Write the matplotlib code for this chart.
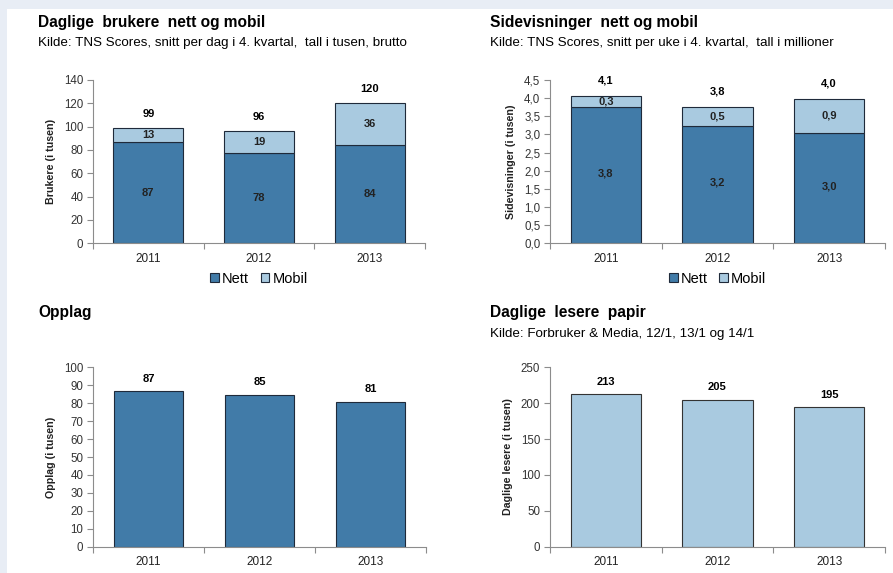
import matplotlib.pyplot as plt
import numpy as np

plt.rcParams['font.family'] = ['Liberation Sans', 'DejaVu Sans']

years = ['2011', '2012', '2013']

# Daglige brukere (tusen)
brukere_nett = [86.6, 77.6, 84.4]
brukere_mobil = [12.6, 18.8, 35.6]

# Sidevisninger (millioner)
sider_nett = [3.76, 3.24, 3.04]
sider_mobil = [0.31, 0.52, 0.94]

# Opplag (tusen)
opplag = [86.6, 84.6, 80.8]

# Daglige lesere papir (tusen)
lesere = [213, 205, 195]

c_nett = '#417BA8'
c_mobil = '#A9CAE0'
c_edge = '#1F2A3A'
c_spine = '#8C8C8C'
c_text = '#222222'

fig = plt.figure(figsize=(8.93, 5.73), dpi=100)
fig.patch.set_facecolor('#E8EDF5')
# white page
fig.add_artist(plt.Rectangle((7 / 893, 0), 1, (573 - 9) / 573,
                             transform=fig.transFigure, facecolor='white',
                             edgecolor='none', zorder=0))


def comma(v, d):
    return f'{v:.{d}f}'.replace('.', ',')


def setup(ax, ymax, step, ylabel, dec=0):
    x = np.arange(len(years))
    ax.set_xlim(-0.5, 2.5)
    ax.set_ylim(0, ymax)
    ticks = np.arange(0, ymax + step / 2, step)
    ax.set_yticks(ticks)
    ax.set_yticklabels([comma(v, dec) for v in ticks], fontsize=8.3, color='#333333')
    ax.set_xticks([-0.5, 0.5, 1.5, 2.5])
    ax.set_xticklabels([])
    ax.set_xticks(x, minor=True)
    ax.set_xticklabels(years, minor=True, fontsize=8.5, color='#222222')
    ax.tick_params(axis='x', which='major', length=4, color=c_spine)
    ax.tick_params(axis='x', which='minor', length=0, pad=7)
    ax.tick_params(axis='y', length=4, color=c_spine, pad=3)
    for s in ['top', 'right']:
        ax.spines[s].set_visible(False)
    for s in ['left', 'bottom']:
        ax.spines[s].set_color(c_spine)
        ax.spines[s].set_linewidth(0.8)
    ax.set_ylabel(ylabel, fontsize=7.7, fontweight='bold', color=c_text, labelpad=6)
    return x


def title(xp, yp, t, sub=None):
    fig.text(xp / 893, 1 - yp / 573, t, fontsize=11.2, fontweight='bold',
             color='black', va='center')
    if sub:
        fig.text(xp / 893, 1 - (yp + 21) / 573, sub, fontsize=9.6,
                 color='black', va='center')


bw = 0.63
lab = dict(ha='center', va='center', fontsize=8, fontweight='bold')
leg = dict(loc='upper center', bbox_to_anchor=(0.5, -0.14), ncol=2, frameon=False,
           fontsize=10.5, handlelength=0.6, handleheight=0.6, handletextpad=0.2,
           columnspacing=0.8, borderaxespad=0)

# Panel 1
ax1 = fig.add_axes([93 / 893, 1 - 243.3 / 573, 332 / 893, 163.3 / 573])
x = setup(ax1, 140, 20, 'Brukere (i tusen)')
ax1.bar(x, brukere_nett, bw, color=c_nett, edgecolor=c_edge, linewidth=0.8, label='Nett')
ax1.bar(x, brukere_mobil, bw, bottom=brukere_nett, color=c_mobil, edgecolor=c_edge,
        linewidth=0.8, label='Mobil')
for i in x:
    tot = brukere_nett[i] + brukere_mobil[i]
    ax1.text(i, brukere_nett[i] / 2, f'{brukere_nett[i]:.0f}', color=c_text, **lab)
    ax1.text(i, brukere_nett[i] + brukere_mobil[i] / 2, f'{brukere_mobil[i]:.0f}',
             color=c_text, **lab)
    ax1.text(i, tot + 12, f'{tot:.0f}', color='black', **lab)
ax1.legend(**leg)
title(38, 22, 'Daglige  brukere  nett og mobil',
      'Kilde: TNS Scores, snitt per dag i 4. kvartal,  tall i tusen, brutto')

# Panel 2
ax2 = fig.add_axes([550 / 893, 1 - 243.3 / 573, 335 / 893, 163.3 / 573])
x = setup(ax2, 4.5, 0.5, 'Sidevisninger (i tusen)', dec=1)
ax2.bar(x, sider_nett, bw, color=c_nett, edgecolor=c_edge, linewidth=0.8, label='Nett')
ax2.bar(x, sider_mobil, bw, bottom=sider_nett, color=c_mobil, edgecolor=c_edge,
        linewidth=0.8, label='Mobil')
for i in x:
    tot = sider_nett[i] + sider_mobil[i]
    ax2.text(i, sider_nett[i] / 2 + 0.05, comma(sider_nett[i], 1), color=c_text, **lab)
    ax2.text(i, sider_nett[i] + sider_mobil[i] / 2, comma(sider_mobil[i], 1),
             color=c_text, **lab)
    ax2.text(i, tot + 0.42, comma(tot, 1), color='black', **lab)
ax2.legend(**leg)
title(490, 22, 'Sidevisninger  nett og mobil',
      'Kilde: TNS Scores, snitt per uke i 4. kvartal,  tall i millioner')

# Panel 3
ax3 = fig.add_axes([93 / 893, 1 - 546.7 / 573, 333 / 893, 179.4 / 573])
x = setup(ax3, 100, 10, 'Opplag (i tusen)')
ax3.bar(x, opplag, bw, color=c_nett, edgecolor=c_edge, linewidth=0.8)
for i in x:
    ax3.text(i, opplag[i] + 7, f'{opplag[i]:.0f}', color='black', **lab)
title(38, 313, 'Opplag')

# Panel 4
ax4 = fig.add_axes([550 / 893, 1 - 546.7 / 573, 335 / 893, 179.4 / 573])
x = setup(ax4, 250, 50, 'Daglige lesere (i tusen)')
ax4.bar(x, lesere, bw, color=c_mobil, edgecolor='#333333', linewidth=0.8)
for i in x:
    ax4.text(i, lesere[i] + 17, f'{lesere[i]:.0f}', color='black', **lab)
title(490, 313, 'Daglige  lesere  papir',
      'Kilde: Forbruker & Media, 12/1, 13/1 og 14/1')

fig.savefig('out.png', dpi=100, facecolor=fig.get_facecolor())
